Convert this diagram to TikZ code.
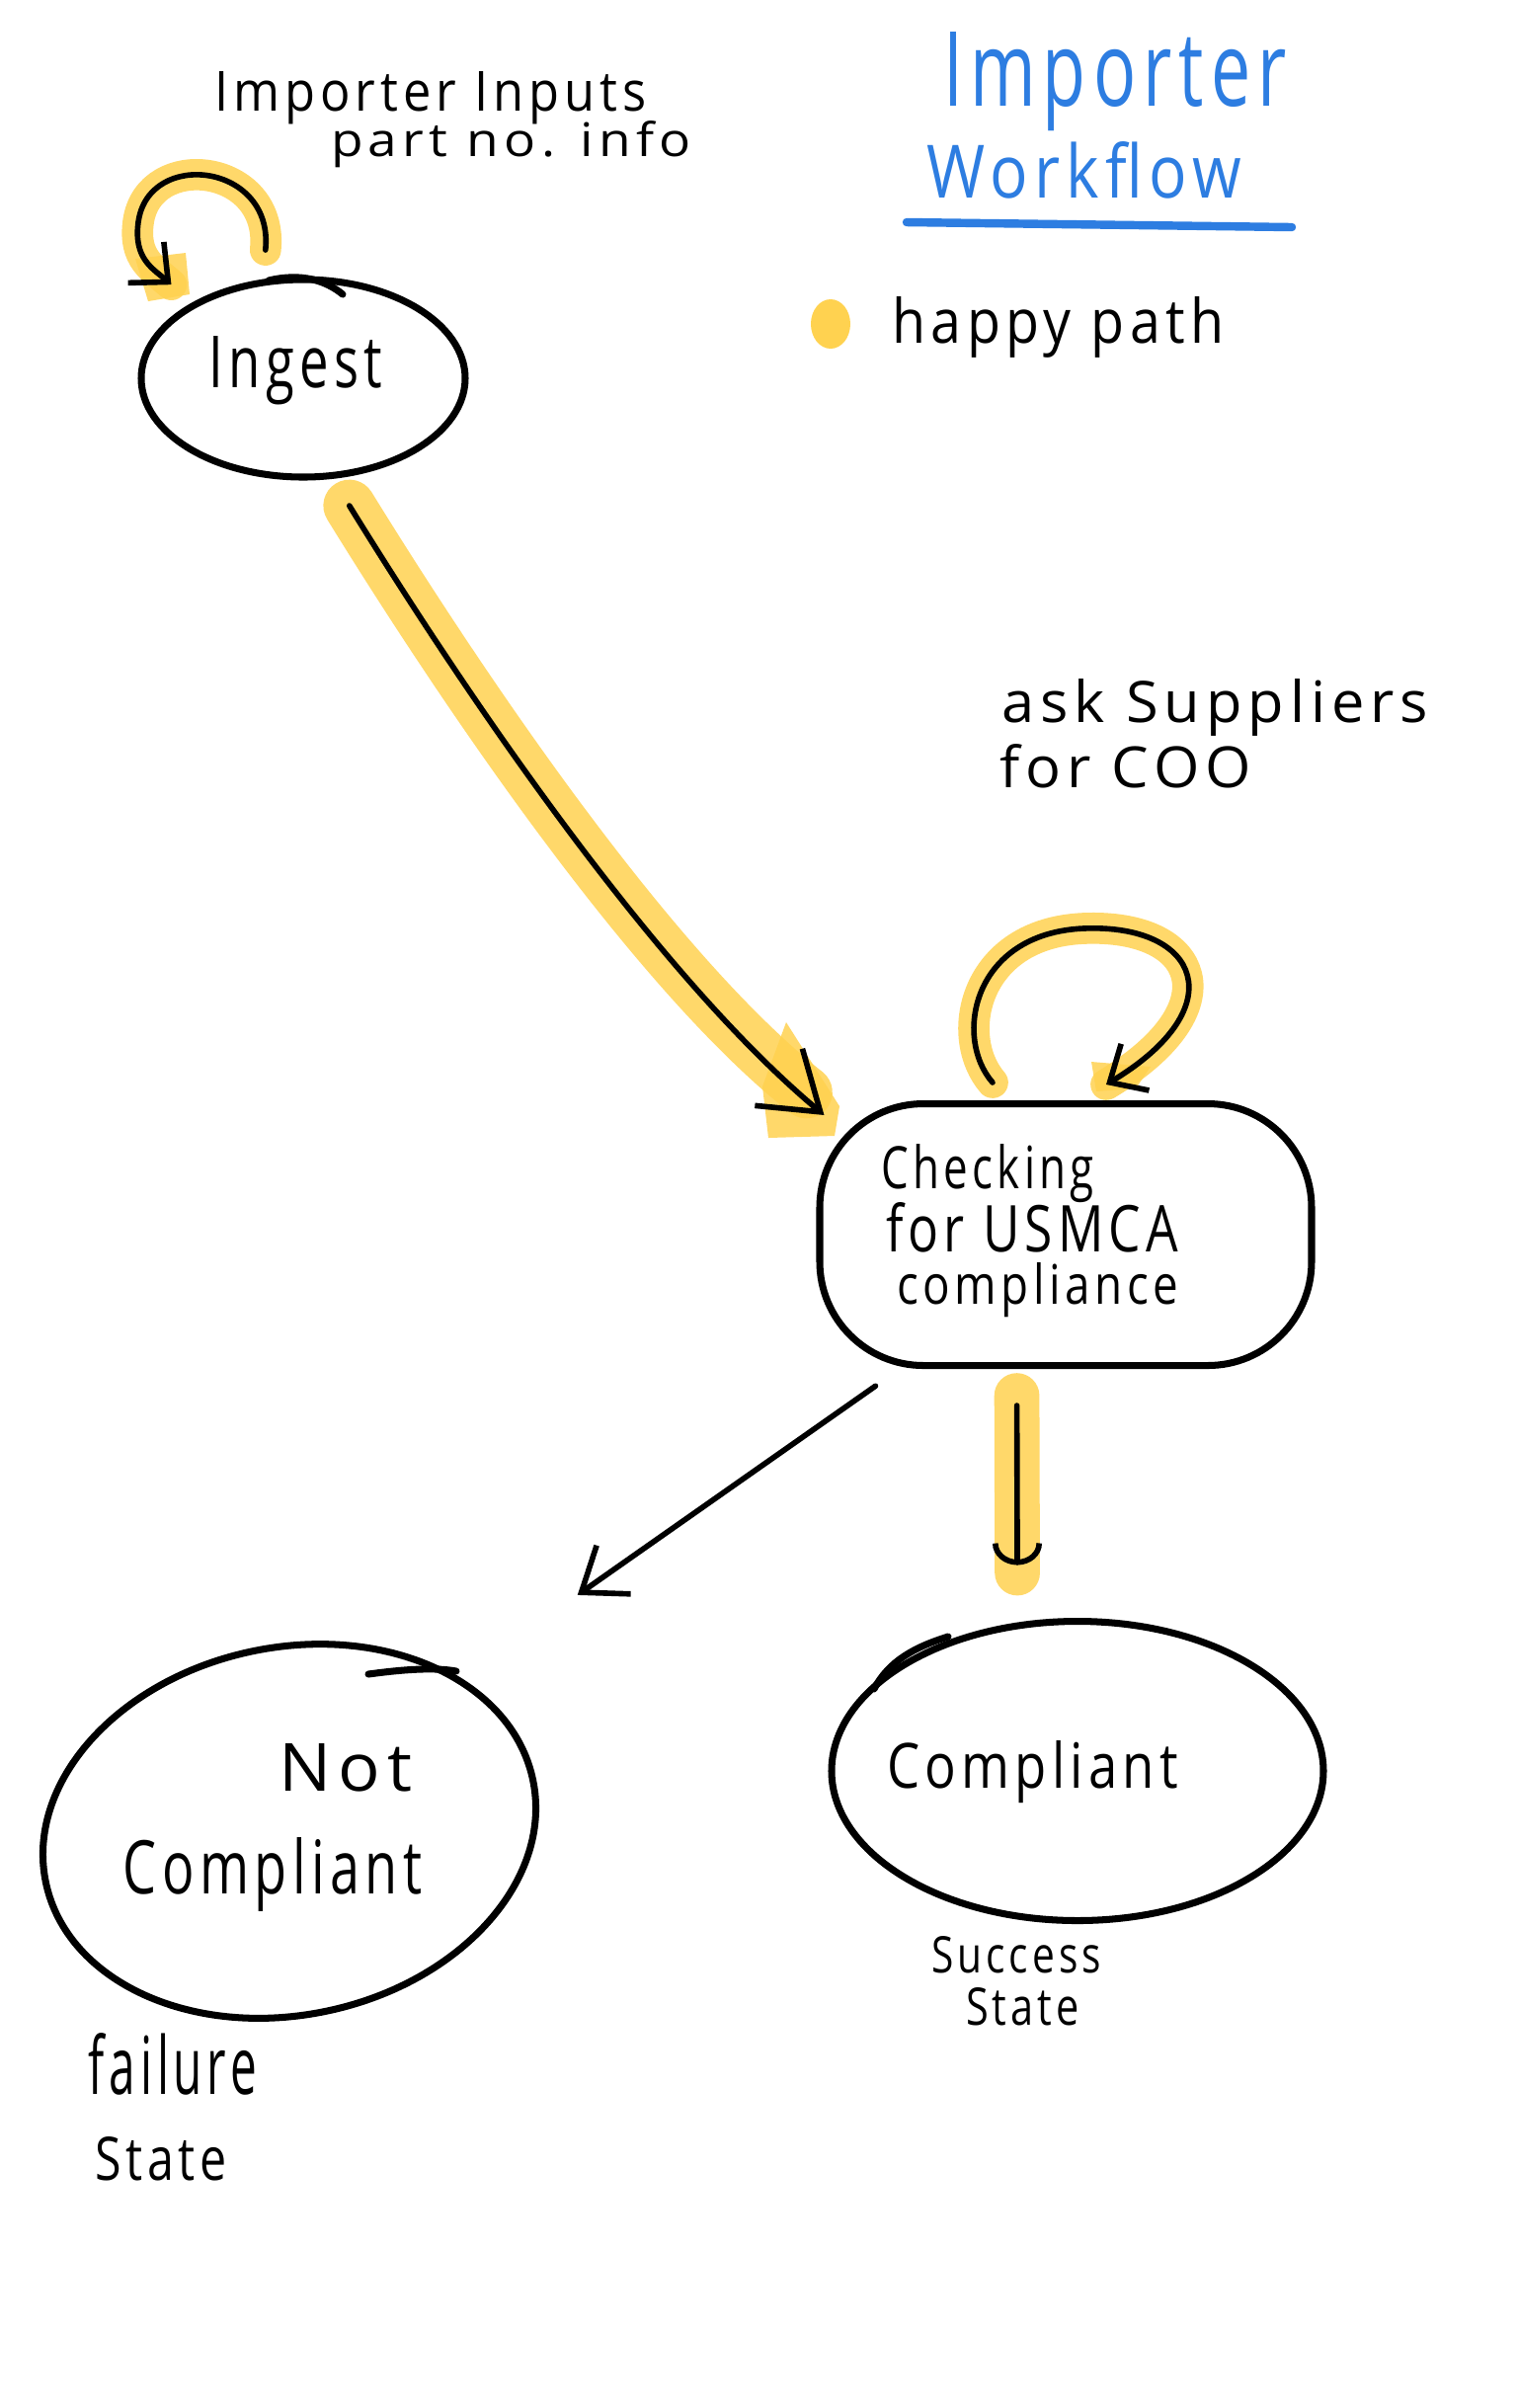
\documentclass[tikz,border=0pt]{standalone}
\usepackage{graphicx}
\usepackage{fontspec}
\setmainfont{Open Sans}[LetterSpace=10]
\usetikzlibrary{arrows.meta,shapes.geometric}
\newdimen\pxu \pxu=0.01cm
\newcommand\fitwh[3]{\resizebox{#1\pxu}{#2\pxu}{#3}}
\definecolor{hlyellow}{RGB}{255,210,80}
\definecolor{titleblue}{RGB}{45,125,225}
\begin{document}
\begin{tikzpicture}[x=0.01cm, y=-0.01cm,
  ink/.style={line width=1.6pt, line cap=round, line join=round, draw=black},
  state/.style={draw, ellipse, line width=2pt, inner sep=0pt},
  hl/.style={draw=hlyellow, line cap=round, line join=round, opacity=0.85},
  hlfill/.style={fill=hlyellow, opacity=0.85},
  txt/.style={anchor=base west, inner sep=0pt, outer sep=0pt},
  barb/.style={-{Straight Barb[length=0.3cm, width=0.55cm, line width=1.6pt]}},
  bigbarb/.style={-{Straight Barb[length=0.55cm, width=0.75cm, line width=1.6pt]}},
  arcbarb/.style={-{Arc Barb[length=0.22cm, width=0.5cm, line width=1.6pt]}}
]
\useasboundingbox (0,0) rectangle (1536,2438);
\fill[white] (0,0) rectangle (1536,2438);

% ---------- states ----------
\node[state, minimum width=328\pxu, minimum height=200\pxu] (ingest) at (307,383) {};
\node[draw, rectangle, rounded corners=105\pxu, line width=2pt, inner sep=0pt,
      minimum width=498\pxu, minimum height=265\pxu] (checking) at (1079,1250) {};
\node[state, rotate=12, minimum width=504\pxu, minimum height=372\pxu] (notc) at (293,1854) {};
\node[state, minimum width=498\pxu, minimum height=303\pxu] (comp) at (1091,1793) {};

% hand-drawn overshoots of the state outlines
\draw[line width=2pt, line cap=round] (272,284) .. controls (305,276) and (330,284) .. (347,298);
\draw[line width=2pt, line cap=round] (373,1695) .. controls (410,1690) and (440,1688) .. (462,1692);
\draw[line width=2pt, line cap=round] (885,1710) .. controls (900,1682) and (925,1668) .. (960,1657);

% ---------- highlights (happy path) ----------
% ingest self loop
\draw[hl, line width=9pt] ([shift={(-9,-28)}]ingest.106) .. controls (278,165) and (150,150) .. (140,225)
      .. controls (135,262) and (155,272) .. ([shift={(-25,-16)}]ingest.144);
\fill[hlfill] (137,262) -- (188,256) -- (192,298) -- (150,305) -- cycle;
% ingest -> checking
\draw[hl, line width=15pt] ([shift={(10,28)}]ingest.-70) .. controls (445,660) and (650,975) .. ([shift={(-10,-8)}]checking.north west);
\fill[hlfill] (796,1035) -- (850,1120) -- (845,1150) -- (778,1152) -- (772,1100) -- cycle;
% checking self loop
\draw[hl, line width=9pt] ([shift={(-74,-18)}]checking.north) .. controls (965,1050) and (985,945) .. (1097,940)
      .. controls (1215,935) and (1250,1020) .. ([shift={(41,-16)}]checking.north);
\fill[hlfill] (1105,1075) -- (1165,1080) -- (1150,1102) -- (1110,1105) -- cycle;
% checking -> compliant
\draw[hl, line width=13pt, shorten <=0.27cm, shorten >=0.5cm] (checking.-110) -- (comp.112.5);

% ---------- connectors ----------
\draw[ink, barb] ([shift={(-9,-28)}]ingest.106) .. controls (278,165) and (150,150) .. (140,225)
      .. controls (135,262) and (155,272) .. ([shift={(-25,-16)}]ingest.144);
\draw[ink, bigbarb] ([shift={(10,28)}]ingest.-70) .. controls (445,660) and (650,975) .. ([shift={(8,15)}]checking.north west);
\draw[ink, barb] ([shift={(-74,-18)}]checking.north) .. controls (965,1050) and (985,945) .. (1097,940)
      .. controls (1215,935) and (1250,1020) .. ([shift={(41,-16)}]checking.north);
\draw[ink, -{Straight Barb[length=0.4cm, width=0.6cm, line width=1.6pt]}, shorten <=0.3cm, shorten >=1.45cm] (checking.-141) -- (notc.30);
\draw[ink, arcbarb, shorten <=0.37cm, shorten >=0.58cm] (checking.-110) -- (comp.112.5);

% ---------- texts ----------
\node[txt] (t-ingest) at (212,392) {\fitwh{175}{52}{Ingest}};
\node[txt] (t-check1) at (892,1203) {\fitwh{216}{45}{Checking}};
\node[txt] (t-check2) at (897,1267) {\fitwh{296}{50}{for USMCA}};
\node[txt] (t-check3) at (908,1320) {\fitwh{285}{42}{compliance}};
\node[txt] (t-not) at (282,1813) {\fitwh{135}{48}{Not}};
\node[txt] (t-notc) at (125,1917) {\fitwh{302}{57}{Compliant}};
\node[txt] (t-comp) at (898,1810) {\fitwh{295}{48}{Compliant}};
\node[txt] (t-succ1) at (943,1997) {\fitwh{172}{37}{Success}};
\node[txt] (t-succ2) at (978,2050) {\fitwh{115}{38}{State}};
\node[txt] (t-fail1) at (90,2120) {\fitwh{170}{62}{failure}};
\node[txt] (t-fail2) at (96,2207) {\fitwh{134}{44}{State}};
\node[txt] (t-in1) at (217,112) {\fitwh{438}{40}{Importer Inputs}};
\node[txt] (t-in2) at (335,158) {\fitwh{365}{36}{part no. info}};
\node[txt] (t-ask1) at (1014,731) {\fitwh{432}{44}{ask Suppliers}};
\node[txt] (t-ask2) at (1012,797) {\fitwh{255}{44}{for COO}};

% title and legend
\node[txt, text=titleblue] (title1) at (955,107) {\fitwh{348}{75}{Importer}};
\node[txt, text=titleblue] (title2) at (938,200) {\fitwh{319}{57}{Workflow}};
\draw[titleblue, line width=2.4pt, line cap=round] (918,225) -- (1308,230);
\node[fill=hlyellow, ellipse, inner sep=0pt, minimum width=40\pxu, minimum height=50\pxu] (dot) at (841,328) {};
\node[txt] (t-happy) at (903,347) {\fitwh{337}{47}{happy path}};
\end{tikzpicture}
\end{document}
